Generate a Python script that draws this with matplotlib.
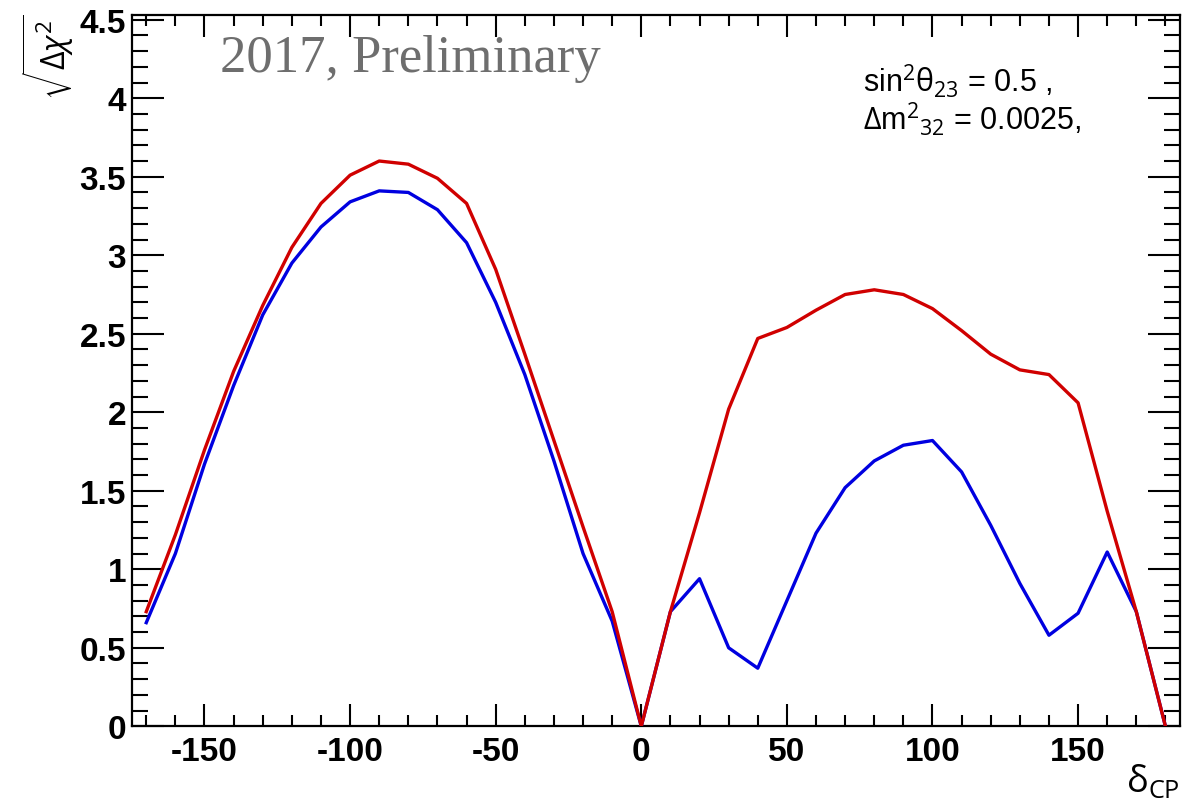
"""Sensitivity to CP violation, sqrt(delta chi^2) vs delta_CP (ROOT style)."""

import matplotlib

matplotlib.use("Agg")
import matplotlib.pyplot as plt
from matplotlib.ticker import MultipleLocator


# bin centres of delta_CP (deg)
DELTA_CP = [
    -170, -160, -150, -140, -130, -120, -110, -100, -90, -80, -70, -60,
    -50, -40, -30, -20, -10, 0, 10, 20, 30, 40, 50, 60, 70, 80, 90, 100,
    110, 120, 130, 140, 150, 160, 170, 180,
]
SQRT_DCHI2_RED = [
    0.73, 1.22, 1.76, 2.26, 2.68, 3.05, 3.33, 3.51, 3.60, 3.58, 3.49, 3.33,
    2.91, 2.37, 1.82, 1.27, 0.73, 0.00, 0.73, 1.36, 2.02, 2.47, 2.54, 2.65,
    2.75, 2.78, 2.75, 2.66, 2.52, 2.37, 2.27, 2.24, 2.06, 1.37, 0.73, 0.00,
]
SQRT_DCHI2_BLUE = [
    0.66, 1.10, 1.67, 2.17, 2.62, 2.95, 3.18, 3.34, 3.41, 3.40, 3.29, 3.08,
    2.70, 2.24, 1.69, 1.10, 0.67, 0.00, 0.73, 0.94, 0.50, 0.37, 0.80, 1.23,
    1.52, 1.69, 1.79, 1.82, 1.62, 1.28, 0.91, 0.58, 0.72, 1.11, 0.73, 0.00,
]
X_RANGE = (-175, 185)
Y_RANGE = (0.0, 4.53)

RED = "#d00000"
BLUE = "#0000e0"

plt.rcParams.update(
    {
        "font.family": ["Liberation Sans", "DejaVu Sans"],
        "mathtext.fontset": "custom",
        "mathtext.rm": "Open Sans",
        "mathtext.it": "Open Sans:italic",
        "mathtext.bf": "Open Sans:bold",
        "mathtext.sf": "Open Sans",
    }
)

W, H = 1198, 804
fig = plt.figure(figsize=(W / 100, H / 100), dpi=100)
left, right, bottom, top = 131.7, 1180.0, 727.3, 16.0
ax = fig.add_axes(
    [left / W, (H - bottom) / H, (right - left) / W, (bottom - top) / H]
)

ax.plot(DELTA_CP, SQRT_DCHI2_BLUE, color=BLUE, linewidth=2.4, zorder=3)
ax.plot(DELTA_CP, SQRT_DCHI2_RED, color=RED, linewidth=2.4, zorder=4)

ax.set_xlim(*X_RANGE)
ax.set_ylim(*Y_RANGE)

for side in ax.spines.values():
    side.set_linewidth(1.6)

ax.xaxis.set_major_locator(MultipleLocator(50))
ax.xaxis.set_minor_locator(MultipleLocator(10))
ax.yaxis.set_major_locator(MultipleLocator(0.5))
ax.yaxis.set_minor_locator(MultipleLocator(0.1))
ax.xaxis.set_major_formatter(lambda v, p: f"{v:g}")
ax.yaxis.set_major_formatter(lambda v, p: f"{v:g}")

ax.tick_params(axis="both", which="both", direction="in", top=True, right=True,
               width=1.5, colors="black")
ax.tick_params(axis="x", which="major", length=15.5, pad=7)
ax.tick_params(axis="x", which="minor", length=8)
ax.tick_params(axis="y", which="major", length=23, pad=4)
ax.tick_params(axis="y", which="minor", length=11.5)
for lab in ax.get_xticklabels() + ax.get_yticklabels():
    lab.set_fontsize(24)
    lab.set_fontweight("bold")

fig.text(220 / W, 1 - 72 / H, "2017, Preliminary", family="Liberation Serif",
         fontsize=38, color="#6e6e6e", ha="left", va="baseline")

fig.text(863 / W, 1 - 92 / H, r"sin$^{2}\mathrm{\theta}_{23}$ = 0.5 ,",
         fontsize=22, ha="left", va="baseline")
fig.text(863 / W, 1 - 130 / H, r"$\Delta$m$^{2}$$_{32}$ = 0.0025,",
         fontsize=22, ha="left", va="baseline")

fig.text(76 / W, 1 - 14 / H, r"$\sqrt{\Delta\chi^{2}}$", fontsize=23,
         rotation=90, ha="right", va="top")
fig.text(1180 / W, 4 / H, r"$\mathrm{\delta}_{\mathrm{CP}}$", fontsize=26,
         ha="right", va="bottom")

fig.savefig("out.png", dpi=100)
